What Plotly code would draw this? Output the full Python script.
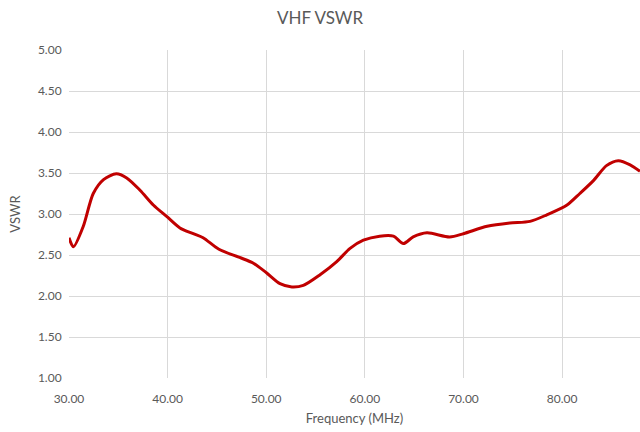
import plotly.graph_objects as go

freq = [30.0, 30.45, 31.45, 32.46, 33.5, 34.8, 35.85, 37.2, 38.55, 39.9, 41.25, 42.6, 43.6,
        45.2, 47.3, 48.7, 50.05, 51.4, 52.6, 53.76, 55.46, 57.15, 58.5, 59.85, 61.5, 62.9,
        63.9, 64.9, 66.3, 68.6, 70.0, 72.4, 74.7, 76.75, 78.45, 80.5, 81.8, 83.2, 84.5,
        85.7, 86.9, 87.9]
vswr = [2.71, 2.60, 2.85, 3.25, 3.42, 3.49, 3.44, 3.29, 3.11, 2.97, 2.83, 2.76, 2.71,
        2.57, 2.47, 2.40, 2.28, 2.15, 2.11, 2.13, 2.26, 2.42, 2.58, 2.68, 2.73, 2.73,
        2.64, 2.72, 2.77, 2.72, 2.76, 2.85, 2.89, 2.91, 2.99, 3.11, 3.25, 3.41, 3.59,
        3.65, 3.60, 3.52]

y_ticks = [1.0, 1.5, 2.0, 2.5, 3.0, 3.5, 4.0, 4.5, 5.0]
x_ticks = [30, 40, 50, 60, 70, 80]

fig = go.Figure()
fig.add_trace(go.Scatter(x=freq, y=vswr, mode="lines",
                         line=dict(color="#C00000", width=3, shape="spline", smoothing=0.8),
                         showlegend=False, cliponaxis=True))

font = "Lato, Open Sans, sans-serif"
fig.update_layout(
    width=640, height=432,
    margin=dict(l=69, r=0, t=50, b=54),
    paper_bgcolor="white", plot_bgcolor="white",
    title=dict(text="VHF VSWR", x=0.5, xref="container", xanchor="center",
               y=1 - 18 / 432, yref="container", yanchor="middle",
               font=dict(family=font, size=17, color="#595959")),
    font=dict(family=font, color="#595959", size=12),
    xaxis=dict(range=[30, 87.9], tickvals=x_ticks, tickformat=".2f",
               showgrid=True, gridcolor="#D9D9D9", gridwidth=1, zeroline=False,
               showline=False, ticks="outside", ticklen=10, tickcolor="rgba(0,0,0,0)",
               title=dict(text="Frequency (MHz)", font=dict(size=13, color="#595959"), standoff=8)),
    yaxis=dict(range=[1, 5], tickvals=y_ticks, tickformat=".2f",
               showgrid=True, gridcolor="#D9D9D9", gridwidth=1, zeroline=False,
               showline=False, ticks="outside", ticklen=4, tickcolor="rgba(0,0,0,0)",
               title=dict(text="VSWR", font=dict(size=13, color="#595959"), standoff=14)),
)
fig.write_html("out.html", config={"displayModeBar": False},
               post_script="document.body.style.margin='0';document.body.style.overflow='hidden';")
